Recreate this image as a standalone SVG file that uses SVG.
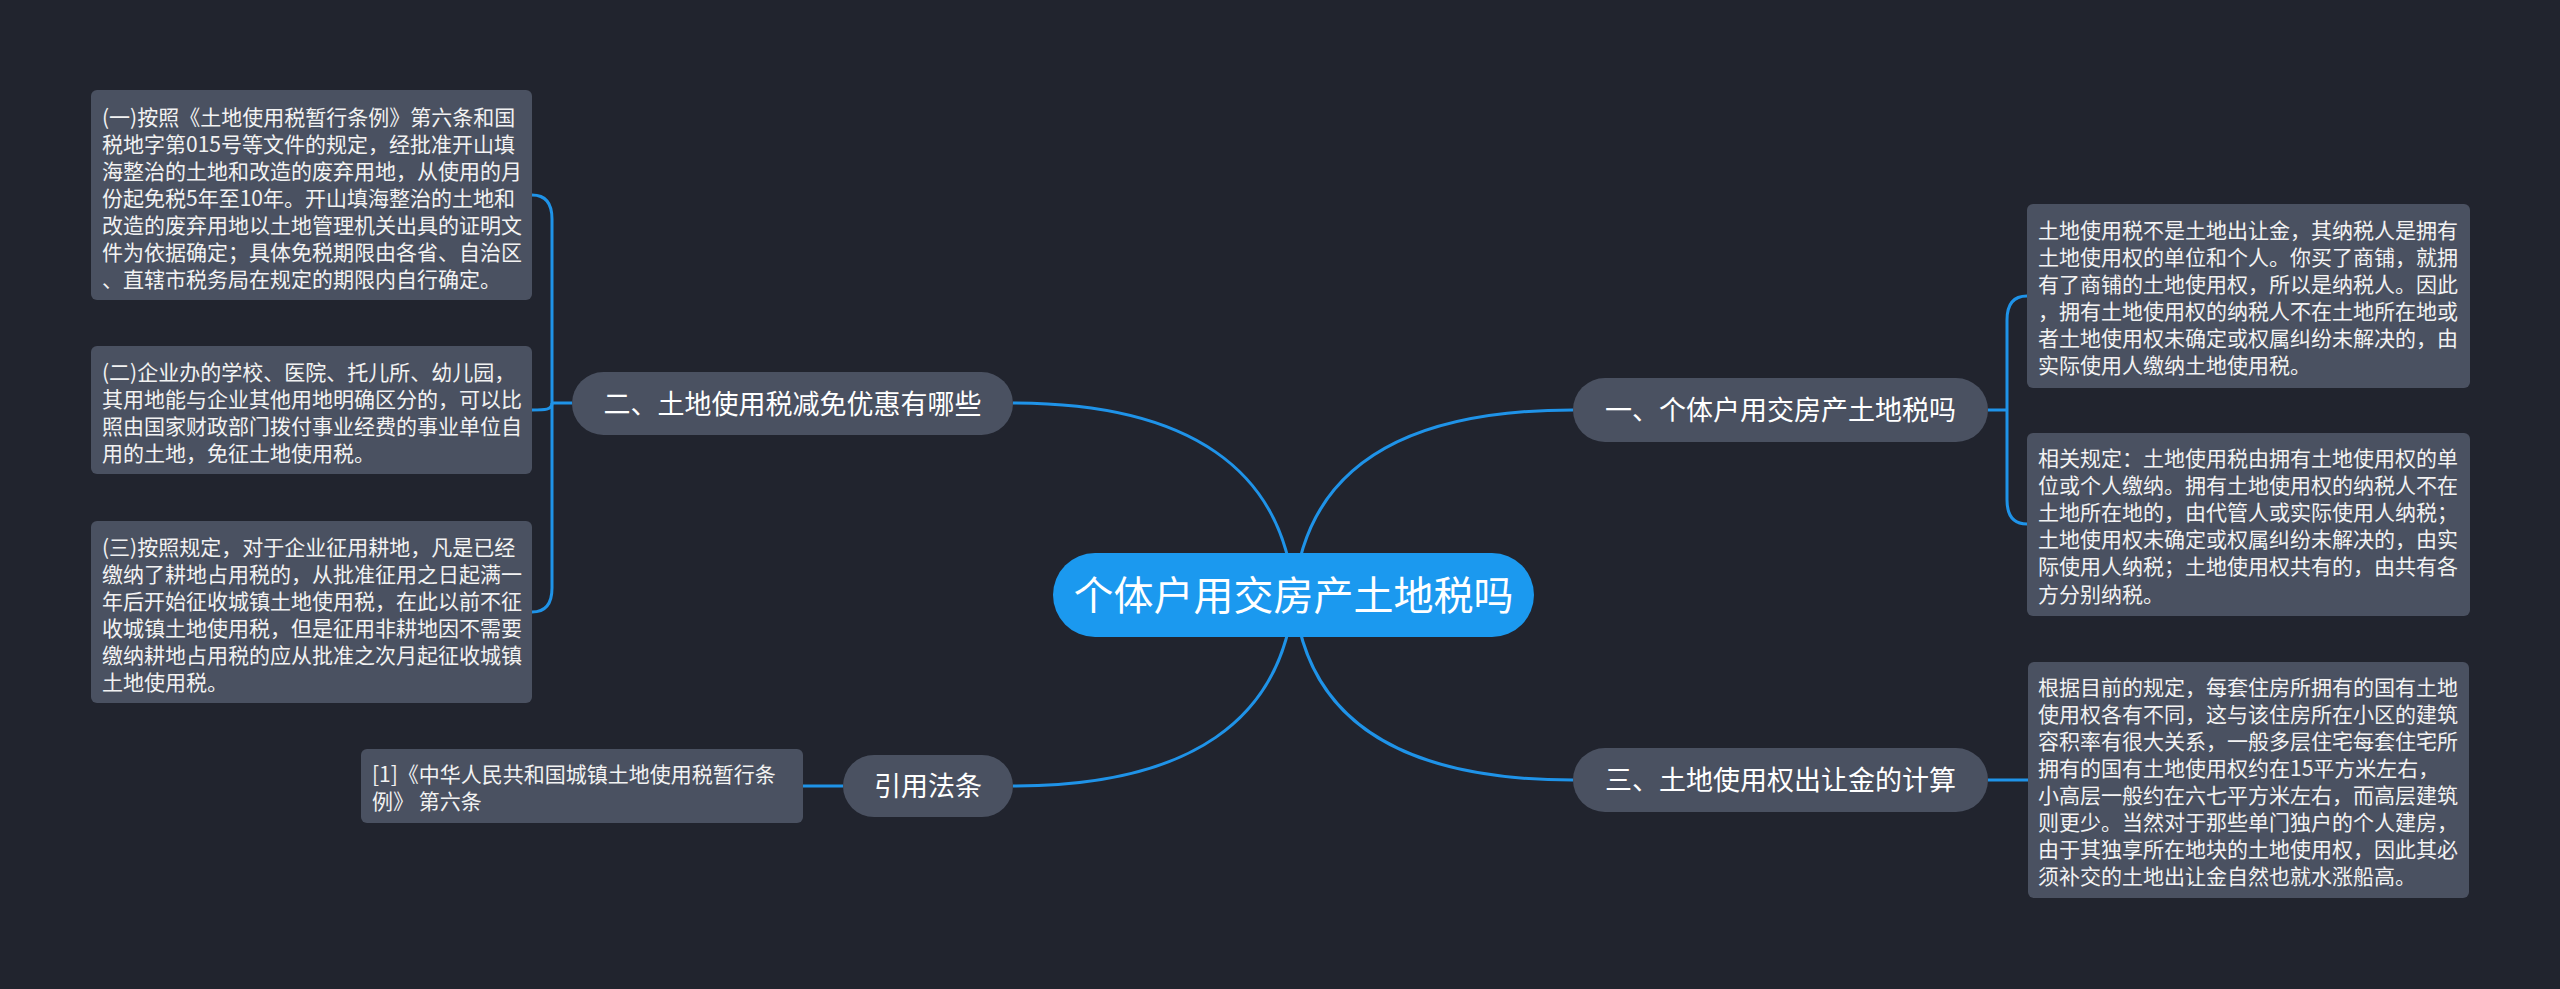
<svg xmlns="http://www.w3.org/2000/svg" width="2560" height="989" viewBox="0 0 2560 989">
<style>
.bg{fill:#21242e}
.c{fill:none;stroke:#1f93e8;stroke-width:3}
.node{fill:#4a5161}
.box{fill:#4a5161}
.root{fill:#1b99ef}
.nt{font-family:"Noto Sans CJK SC","Noto Sans",sans-serif;font-size:27px;fill:#ffffff;text-anchor:middle}
.rt{font-family:"Noto Sans CJK SC","Noto Sans",sans-serif;font-size:40px;fill:#ffffff;text-anchor:middle}
.bt{font-family:"Noto Sans CJK SC","Noto Sans",sans-serif;font-size:21px;fill:#f2f2f2}
</style>
<rect class="bg" x="0" y="0" width="2560" height="989"/>
<g id="connectors">
<path class="c" d="M1294,595 C1305,470 1400,410 1573,410"/>
<path class="c" d="M1294,595 C1283,470 1190,403 1013,403"/>
<path class="c" d="M1294,595 C1305,720 1400,780 1573,780"/>
<path class="c" d="M1294,595 C1283,720 1190,786 1013,786"/>
<path class="c" d="M572,403 L552,403"/>
<path class="c" d="M552,403 L552,219 Q552,195 532,195"/>
<path class="c" d="M552,403 C552,410 545,410 532,410"/>
<path class="c" d="M552,403 L552,588 Q552,612 532,612"/>
<path class="c" d="M1988,410 L2007,410"/>
<path class="c" d="M2007,410 L2007,320 Q2007,296 2027,296"/>
<path class="c" d="M2007,410 L2007,500 Q2007,524 2027,524"/>
<path class="c" d="M1988,780 L2028,780"/>
<path class="c" d="M843,786 L803,786"/>
</g>
<g id="root">
<rect class="root" x="1053" y="553" width="481" height="84" rx="42"/>
<text class="rt" x="1293.5" y="610">个体户用交房产土地税吗</text>
</g>
<g id="n1">
<rect class="node" x="1573" y="378" width="415" height="64" rx="32"/>
<text class="nt" x="1780.5" y="420">一、个体户用交房产土地税吗</text>
</g>
<g id="n3">
<rect class="node" x="1573" y="748" width="415" height="64" rx="32"/>
<text class="nt" x="1780.5" y="790">三、土地使用权出让金的计算</text>
</g>
<g id="n2">
<rect class="node" x="572" y="372" width="441" height="63" rx="31.5"/>
<text class="nt" x="792.5" y="414">二、土地使用税减免优惠有哪些</text>
</g>
<g id="nref">
<rect class="node" x="843" y="755" width="170" height="62" rx="31"/>
<text class="nt" x="928" y="796">引用法条</text>
</g>
<g id="l1">
<rect class="box" x="91" y="90" width="441" height="210" rx="6"/>
<text class="bt" x="102" y="124.5">
<tspan x="102">(一)按照《土地使用税暂行条例》第六条和国</tspan>
<tspan x="102" dy="27.1">税地字第015号等文件的规定，经批准开山填</tspan>
<tspan x="102" dy="27.1">海整治的土地和改造的废弃用地，从使用的月</tspan>
<tspan x="102" dy="27.1">份起免税5年至10年。开山填海整治的土地和</tspan>
<tspan x="102" dy="27.1">改造的废弃用地以土地管理机关出具的证明文</tspan>
<tspan x="102" dy="27.1">件为依据确定；具体免税期限由各省、自治区</tspan>
<tspan x="102" dy="27.1">、直辖市税务局在规定的期限内自行确定。</tspan>
</text>
</g>
<g id="l2">
<rect class="box" x="91" y="346" width="441" height="128" rx="6"/>
<text class="bt" x="102" y="379.5">
<tspan x="102">(二)企业办的学校、医院、托儿所、幼儿园，</tspan>
<tspan x="102" dy="27.1">其用地能与企业其他用地明确区分的，可以比</tspan>
<tspan x="102" dy="27.1">照由国家财政部门拨付事业经费的事业单位自</tspan>
<tspan x="102" dy="27.1">用的土地，免征土地使用税。</tspan>
</text>
</g>
<g id="l3">
<rect class="box" x="91" y="521" width="441" height="182" rx="6"/>
<text class="bt" x="102" y="554.5">
<tspan x="102">(三)按照规定，对于企业征用耕地，凡是已经</tspan>
<tspan x="102" dy="27.1">缴纳了耕地占用税的，从批准征用之日起满一</tspan>
<tspan x="102" dy="27.1">年后开始征收城镇土地使用税，在此以前不征</tspan>
<tspan x="102" dy="27.1">收城镇土地使用税，但是征用非耕地因不需要</tspan>
<tspan x="102" dy="27.1">缴纳耕地占用税的应从批准之次月起征收城镇</tspan>
<tspan x="102" dy="27.1">土地使用税。</tspan>
</text>
</g>
<g id="ref">
<rect class="box" x="361" y="749" width="442" height="74" rx="6"/>
<text class="bt" x="372" y="782">
<tspan x="372">[1]《中华人民共和国城镇土地使用税暂行条</tspan>
<tspan x="372" dy="27.1">例》 第六条</tspan>
</text>
</g>
<g id="r1">
<rect class="box" x="2027" y="204" width="443" height="184" rx="6"/>
<text class="bt" x="2038" y="237.5">
<tspan x="2038">土地使用税不是土地出让金，其纳税人是拥有</tspan>
<tspan x="2038" dy="27.1">土地使用权的单位和个人。你买了商铺，就拥</tspan>
<tspan x="2038" dy="27.1">有了商铺的土地使用权，所以是纳税人。因此</tspan>
<tspan x="2038" dy="27.1">，拥有土地使用权的纳税人不在土地所在地或</tspan>
<tspan x="2038" dy="27.1">者土地使用权未确定或权属纠纷未解决的，由</tspan>
<tspan x="2038" dy="27.1">实际使用人缴纳土地使用税。</tspan>
</text>
</g>
<g id="r2">
<rect class="box" x="2027" y="433" width="443" height="183" rx="6"/>
<text class="bt" x="2038" y="466">
<tspan x="2038">相关规定：土地使用税由拥有土地使用权的单</tspan>
<tspan x="2038" dy="27.1">位或个人缴纳。拥有土地使用权的纳税人不在</tspan>
<tspan x="2038" dy="27.1">土地所在地的，由代管人或实际使用人纳税；</tspan>
<tspan x="2038" dy="27.1">土地使用权未确定或权属纠纷未解决的，由实</tspan>
<tspan x="2038" dy="27.1">际使用人纳税；土地使用权共有的，由共有各</tspan>
<tspan x="2038" dy="27.1">方分别纳税。</tspan>
</text>
</g>
<g id="r3">
<rect class="box" x="2028" y="662" width="441" height="236" rx="6"/>
<text class="bt" x="2038" y="694.5">
<tspan x="2038">根据目前的规定，每套住房所拥有的国有土地</tspan>
<tspan x="2038" dy="27.1">使用权各有不同，这与该住房所在小区的建筑</tspan>
<tspan x="2038" dy="27.1">容积率有很大关系，一般多层住宅每套住宅所</tspan>
<tspan x="2038" dy="27.1">拥有的国有土地使用权约在15平方米左右，</tspan>
<tspan x="2038" dy="27.1">小高层一般约在六七平方米左右，而高层建筑</tspan>
<tspan x="2038" dy="27.1">则更少。当然对于那些单门独户的个人建房，</tspan>
<tspan x="2038" dy="27.1">由于其独享所在地块的土地使用权，因此其必</tspan>
<tspan x="2038" dy="27.1">须补交的土地出让金自然也就水涨船高。</tspan>
</text>
</g>
</svg>
